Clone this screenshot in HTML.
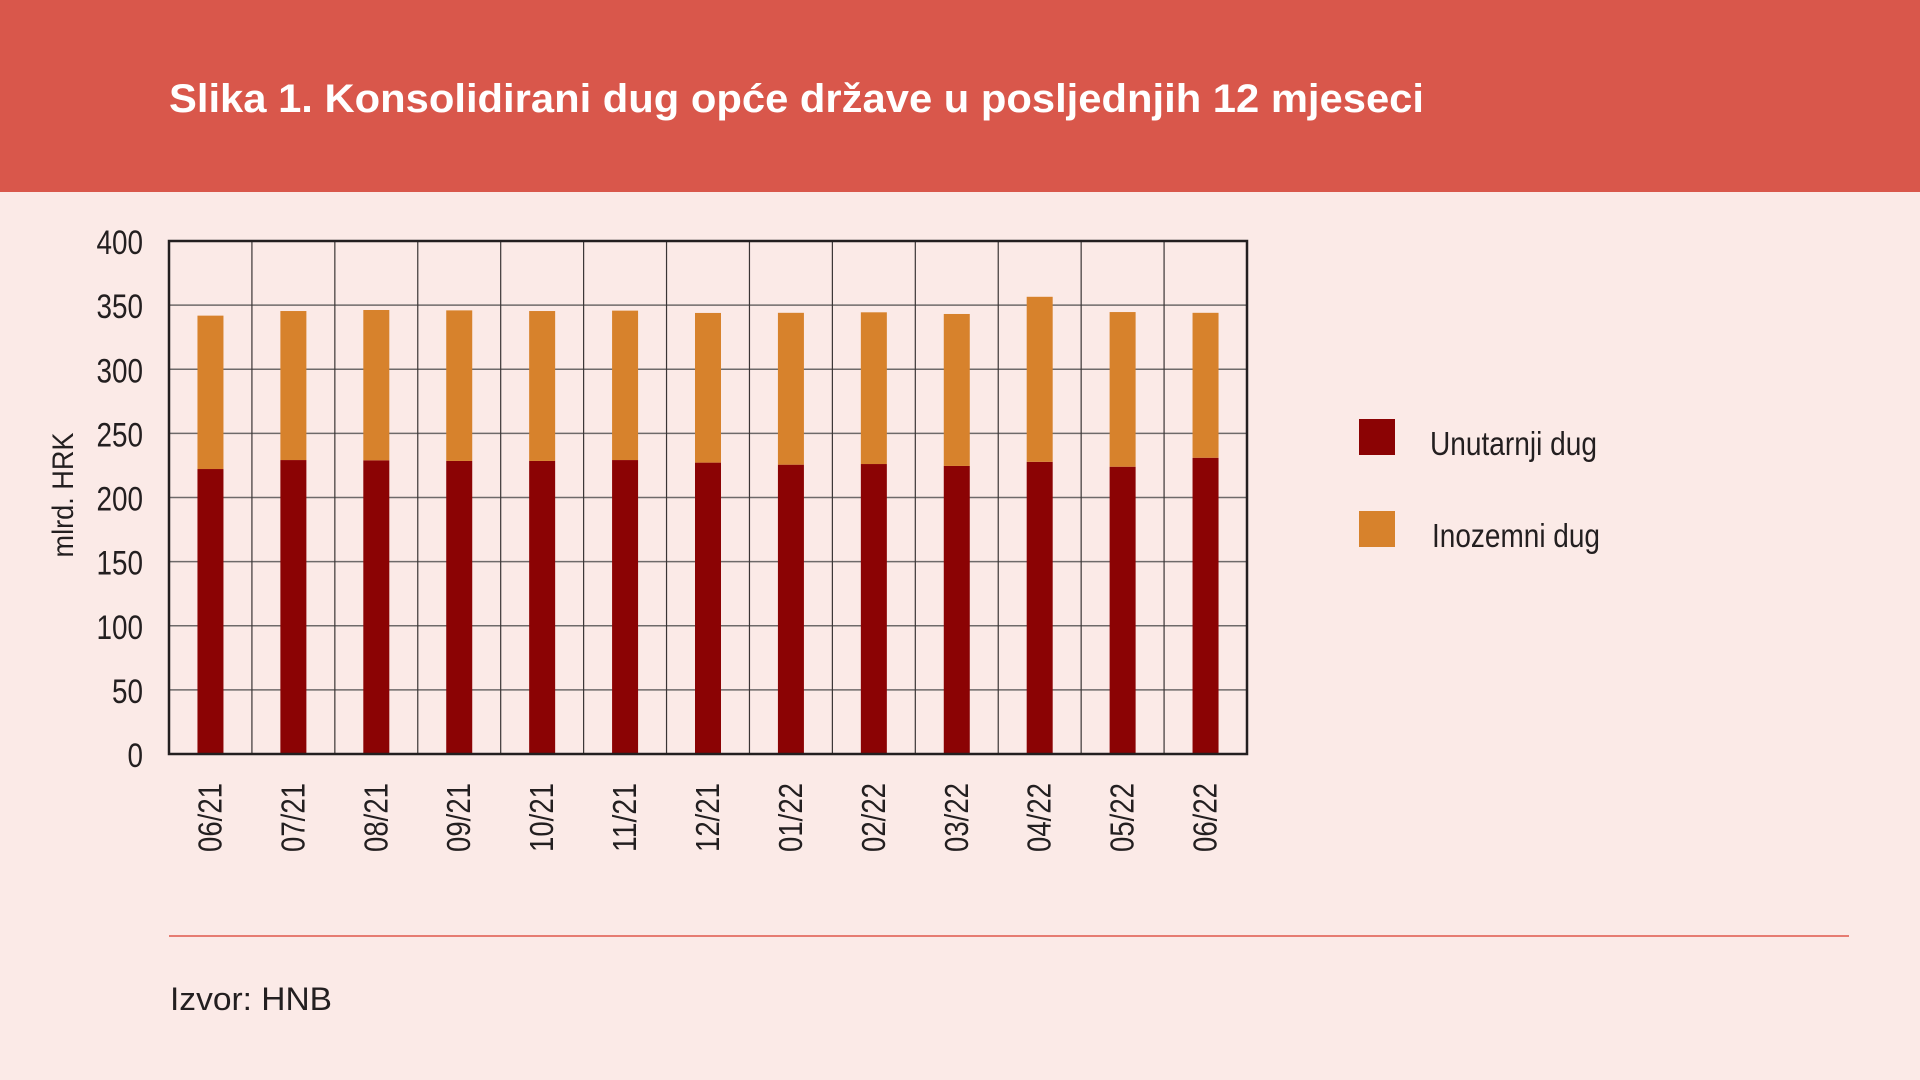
<!DOCTYPE html>
<html><head><meta charset="utf-8">
<style>
html,body{margin:0;padding:0;background:#fbeae7;}
svg{display:block;}
text{font-family:"Liberation Sans Narrow","Liberation Sans",sans-serif;fill:#231f20;}
.w{font-family:"Liberation Sans",sans-serif;}
</style></head>
<body>
<svg id="chart" width="1920" height="1080" viewBox="0 0 1920 1080" xmlns="http://www.w3.org/2000/svg">
<rect x="0" y="0" width="1920" height="1080" fill="#fbeae7"/>
<rect x="0" y="0" width="1920" height="192" fill="#d9574b"/>
<text class="w" x="169" y="112" font-size="40" font-weight="bold" fill="#ffffff" style="fill:#fff" textLength="1255" lengthAdjust="spacingAndGlyphs">Slika 1. Konsolidirani dug opće države u posljednjih 12 mjeseci</text>
<g id="grid"></g>
<g id="bars"></g>
<g id="axes"></g>
<text transform="translate(73,495) rotate(-90)" text-anchor="middle" font-size="30" textLength="125" lengthAdjust="spacingAndGlyphs">mlrd. HRK</text>
<g>
<rect x="1359" y="419" width="36" height="36" fill="#8b0304"/>
<text x="1430" y="455" font-size="33" textLength="167" lengthAdjust="spacingAndGlyphs">Unutarnji dug</text>
<rect x="1359" y="511" width="36" height="36" fill="#d7822c"/>
<text x="1432" y="547" font-size="33" textLength="168" lengthAdjust="spacingAndGlyphs">Inozemni dug</text>
</g>
<line x1="169" y1="936" x2="1849" y2="936" stroke="#e0584c" stroke-width="1.5"/>
<text class="w" x="170" y="1010" font-size="32" textLength="162" lengthAdjust="spacingAndGlyphs">Izvor: HNB</text>
</svg>
<script>
const categories = ["06/21","07/21","08/21","09/21","10/21","11/21","12/21","01/22","02/22","03/22","04/22","05/22","06/22"];
const domestic = [222.2,229.2,229.0,228.5,228.5,229.2,227.2,225.6,226.1,224.6,227.8,224.0,231.0];
const total = [341.8,345.4,346.2,345.9,345.4,345.7,343.9,344.0,344.4,343.1,356.5,344.6,344.0];
const foreign = total.map((t,i)=>+(t-domestic[i]).toFixed(1));
const yTicks = [0,50,100,150,200,250,300,350,400];

const NS="http://www.w3.org/2000/svg";
const L=169,R=1247,T=241,B=754,YMAX=400;
const band=(R-L)/categories.length, barW=26;
const y=v=>B-(v/YMAX)*(B-T);
const xc=i=>L+band*(i+0.5);
function mk(tag,attrs,parent){const e=document.createElementNS(NS,tag);for(const k in attrs)e.setAttribute(k,attrs[k]);parent.appendChild(e);return e;}
const grid=document.getElementById('grid'),bars=document.getElementById('bars'),axes=document.getElementById('axes');
yTicks.forEach(t=>{
  const ln=mk('line',{x1:L,x2:R,y1:y(t),y2:y(t),stroke:'#6e6a6a','stroke-width':1.5},grid);
  
  
  const s=String(t);
  const tx=mk('text',{x:143,y:y(t)+13,'text-anchor':'end','font-size':34,textLength:s.length*15.5,lengthAdjust:'spacingAndGlyphs'},axes);
  tx.textContent=s;
  
  
});
for(let i=1;i<categories.length;i++){
  const ln=mk('line',{x1:L+band*i,x2:L+band*i,y1:T,y2:B,stroke:'#3a3535','stroke-width':1.2},grid);
  
  
}
categories.forEach((c,i)=>{
  const d=mk('rect',{x:xc(i)-barW/2,y:y(domestic[i]),width:barW,height:B-y(domestic[i]),fill:'#8b0304'},bars);
  
  
  const f=mk('rect',{x:xc(i)-barW/2,y:y(domestic[i]+foreign[i]),width:barW,height:y(domestic[i])-y(domestic[i]+foreign[i]),fill:'#d7822c'},bars);
  
  
  const tx=mk('text',{transform:`translate(${xc(i)+11},852) rotate(-90)`,'font-size':33,textLength:69,lengthAdjust:'spacingAndGlyphs'},axes);
  tx.textContent=c;
  
  
});
const fr=mk('rect',{x:L,y:T,width:R-L,height:B-T,fill:'none',stroke:'#231f20','stroke-width':2.5},axes);


</script>
</body></html>
